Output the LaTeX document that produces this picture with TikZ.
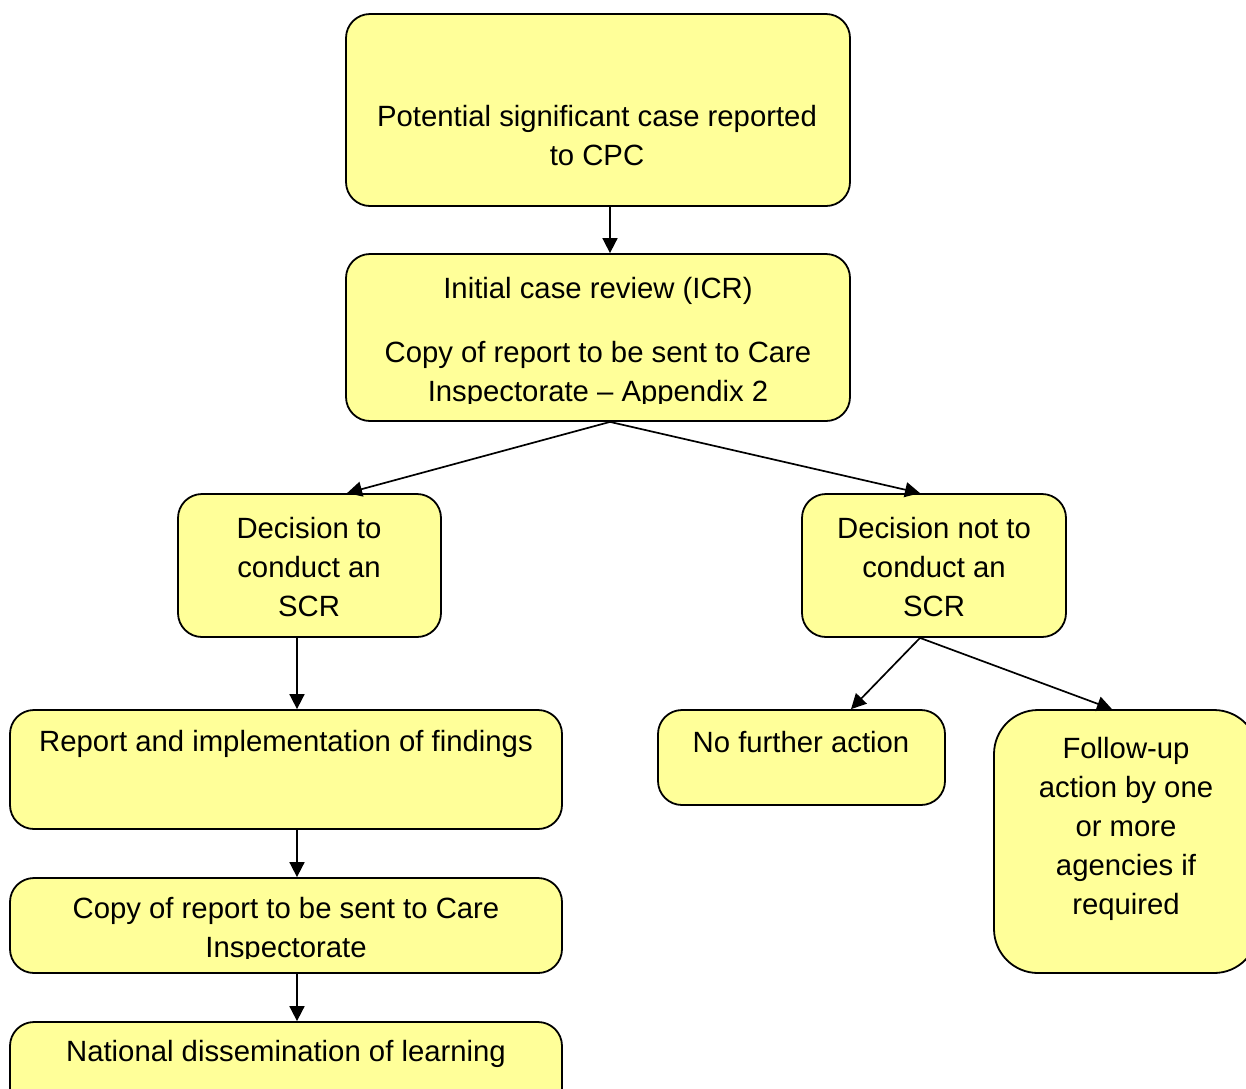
\documentclass[tikz,border=0pt]{standalone}
\usepackage{fontspec}
\setmainfont{Liberation Sans}
\usetikzlibrary{arrows.meta}
\definecolor{boxfill}{HTML}{FFFF99}
\begin{document}
\begin{tikzpicture}[x=1pt,y=-1pt,
  box/.style={draw=black, line width=1.8pt, fill=boxfill, rounded corners=24pt, inner sep=0pt, minimum width=#1},
  txt/.style={font=\fontsize{29.3}{39}\selectfont, align=center, inner sep=0pt},
  arr/.style={line width=1.7pt, -{Triangle[length=15pt,width=15pt]}}]
\clip (0,0) rectangle (1246,1088);
\fill[white] (0,0) rectangle (1246,1088);
% boxes
\node[box=504pt, minimum height=192pt] (top) at (598,110) {};
\node[box=504pt, minimum height=167pt] (icr) at (598,337.5) {};
\node[box=263pt, minimum height=143pt] (dec) at (309.5,565.5) {};
\node[box=264pt, minimum height=143pt] (ndec) at (934,565.5) {};
\node[box=552pt, minimum height=119pt] (rep) at (286,769.5) {};
\node[box=287pt, minimum height=95pt] (nfa) at (801.5,757.5) {};
\node[box=264pt, minimum height=263pt, rounded corners=44pt] (fu) at (1126,841.5) {};
\node[box=552pt, minimum height=95pt] (copy) at (286,925.5) {};
\node[box=552pt, minimum height=95pt] (nat) at (286,1069.5) {};
% texts
\node[txt] (toptxt) at (597,136) {Potential significant case reported\\to CPC};
\node[txt] (icrtxt) at (598,290.5) {Initial case review (ICR)};
\begin{scope}
\clip (346,300) rectangle (850,403);
\node[txt] (icrcopy) at (598,374.5) {Copy of report to be sent to Care\\Inspectorate -- Appendix 2};
\end{scope}
\node[txt] (dectxt) at (309,567.5) {Decision to\\conduct an\\SCR};
\node[txt] (ndectxt) at (934,567.5) {Decision not to\\conduct an\\SCR};
\node[txt] (reptxt) at (286,743.5) {Report and implementation of findings};
\node[txt] (nfatxt) at (801,742.5) {No further action};
\node[txt] (futxt) at (1126,828.5) {Follow-up\\action by one\\or more\\agencies if\\required};
\begin{scope}
\clip (10,885) rectangle (562,958);
\node[txt] (copytxt) at (286,930) {Copy of report to be sent to Care\\Inspectorate};
\end{scope}
\node[txt] (nattxt) at (286,1053.5) {National dissemination of learning};
% arrows
\draw[arr] ([xshift=12pt]top.south) -- ([xshift=12pt]icr.north);
\draw[arr] ([xshift=12pt]icr.south) -- ([xshift=37.5pt]dec.north);
\draw[arr] ([xshift=12pt]icr.south) -- ([xshift=-14pt]ndec.north);
\draw[arr] ([xshift=-12.5pt]dec.south) -- ([xshift=11pt]rep.north);
\draw[arr] ([xshift=11pt]rep.south) -- ([xshift=11pt]copy.north);
\draw[arr] ([xshift=11pt]copy.south) -- ([xshift=11pt]nat.north);
\draw[arr] ([xshift=-14pt]ndec.south) -- ([xshift=49.5pt]nfa.north);
\draw[arr] ([xshift=-14pt]ndec.south) -- ([xshift=-14pt]fu.north);
\end{tikzpicture}
\end{document}
